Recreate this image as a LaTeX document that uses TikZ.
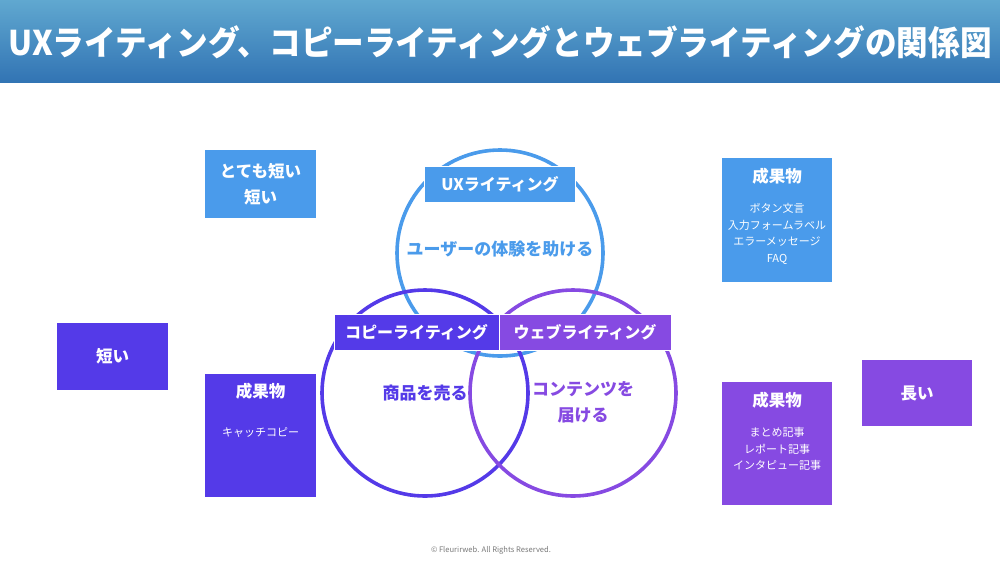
\documentclass[tikz,border=0pt]{standalone}
\usepackage{fontspec}
\setmainfont{Noto Sans CJK JP}
\definecolor{uxblue}{RGB}{74,155,235}
\definecolor{copyindigo}{RGB}{84,58,232}
\definecolor{webpurple}{RGB}{134,74,226}
\definecolor{bartop}{RGB}{96,168,208}
\definecolor{barbottom}{RGB}{50,116,180}
\definecolor{footgray}{RGB}{120,120,120}

\begin{document}
\begin{tikzpicture}[x=1pt,y=-1pt]
		\tikzstyle{ring}=[draw,shape=circle,line width=3.6pt,minimum size=206pt,inner sep=0pt]
		\tikzstyle{tag}=[draw=white,line width=1pt,text=white,font=\fontsize{16}{16}\selectfont\bfseries,minimum height=36pt,inner sep=0pt]
		\tikzstyle{box}=[text=white,inner sep=0pt,font=\fontsize{16.5}{26}\selectfont\bfseries,align=center]
		\tikzstyle{head}=[text=white,font=\fontsize{16.5}{16.5}\selectfont\bfseries]
		\tikzstyle{items}=[text=white,font=\fontsize{11}{16.5}\selectfont,align=center,anchor=north]
		\tikzstyle{lead}=[font=\fontsize{17}{26}\selectfont\bfseries,align=center]

		\useasboundingbox (0,0) rectangle (1000,563);
		\fill[white] (0,0) rectangle (1000,563);

		% title bar
		\shade[top color=bartop,bottom color=barbottom] (0,0) rectangle (1000,82);
		\node[text=white](title) at (500,42){\scalebox{0.93}[1]{\fontsize{34}{34}\selectfont\bfseries UXライティング、コピーライティングとウェブライティングの関係図}};

		% circles
		\node[ring,draw=uxblue](uxring) at (500,253){};
		\node[ring,draw=copyindigo](copyring) at (425,393){};
		\node[ring,draw=webpurple](webring) at (573,393){};

		\node[tag,fill=uxblue,minimum width=151pt](uxtag) at (500,184.5){UXライティング};
		\node[tag,fill=copyindigo,minimum width=165pt](copytag) at (416.5,332){コピーライティング};
		\node[tag,fill=webpurple,minimum width=172pt](webtag) at (585,332){ウェブライティング};

		\node[lead,text=uxblue](uxlead) at (500,249){ユーザーの体験を助ける};
		\node[lead,text=copyindigo](copylead) at (425,393){商品を売る};
		\node[lead,text=webpurple](weblead) at (583,402){コンテンツを\\届ける};

		% length
		\node[box,fill=uxblue,minimum width=111pt,minimum height=68pt](veryshort) at (260.5,184){とても短い\\短い};
		\node[box,fill=copyindigo,minimum width=111pt,minimum height=67pt](short) at (112.5,356.5){短い};
		\node[box,fill=webpurple,minimum width=110pt,minimum height=66pt](long) at (917,393){長い};

		% outputs
		\node[fill=copyindigo,minimum width=111pt,minimum height=123pt](copyout) at (260.5,435.5){};
		\node[head](copyhead) at (260.5,391){成果物};
		\node[items](copyitems) at (260.5,424){キャッチコピー};

		\node[fill=uxblue,minimum width=110pt,minimum height=124pt](uxout) at (777,220){};
		\node[head](uxhead) at (777,176){成果物};
		\node[items](uxitems) at (777,200){ボタン文言\\入力フォームラベル\\エラーメッセージ\\FAQ};

		\node[fill=webpurple,minimum width=110pt,minimum height=123pt](webout) at (777,443.5){};
		\node[head](webhead) at (777,400){成果物};
		\node[items](webitems) at (777,424){まとめ記事\\レポート記事\\インタピュー記事};

		\node[text=footgray,font=\fontsize{7.6}{7.6}\selectfont](foot) at (491,550){© Fleurirweb. All Rights Reserved.};
	\end{tikzpicture}
\end{document}
